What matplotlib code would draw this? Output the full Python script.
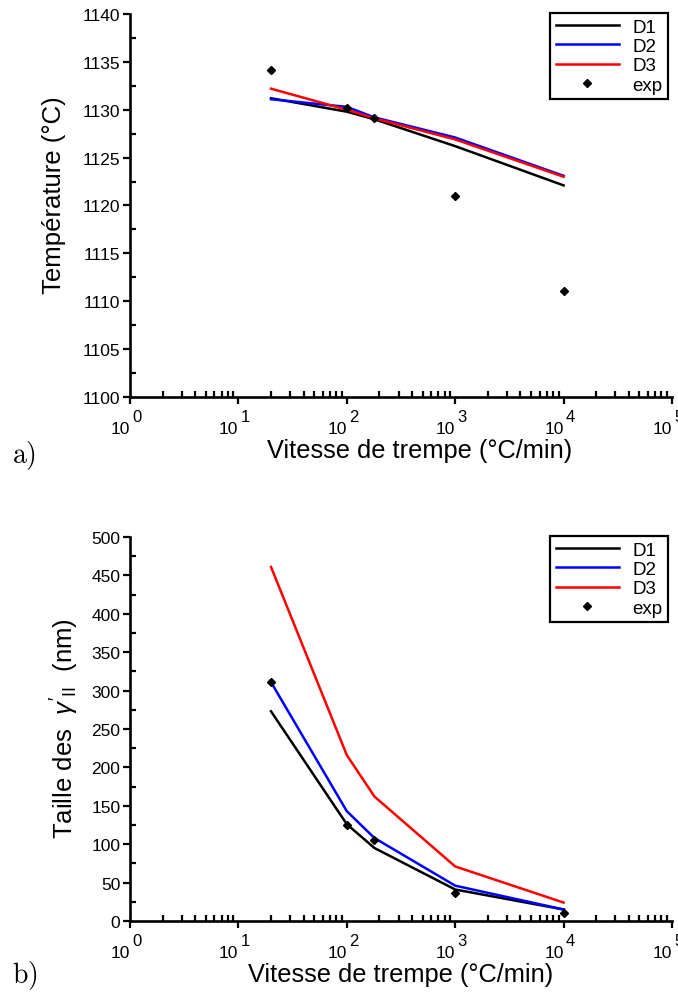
import matplotlib
matplotlib.use('Agg')
import matplotlib.pyplot as plt
from matplotlib.ticker import FixedLocator, LogLocator, MultipleLocator, NullFormatter

plt.rcParams['font.family'] = ['Liberation Sans', 'DejaVu Sans']
plt.rcParams['mathtext.fontset'] = 'custom'
plt.rcParams['mathtext.rm'] = 'Liberation Sans'
plt.rcParams['mathtext.it'] = 'Liberation Sans:italic'

# vitesse de trempe (°C/min)
vitesse = [20, 100, 180, 1000, 10000]

# a) temperature (°C)
temp_D1 = [1131.2, 1129.8, 1129.0, 1126.2, 1122.1]
temp_D2 = [1131.1, 1130.3, 1129.2, 1127.1, 1123.1]
temp_D3 = [1132.2, 1130.0, 1129.1, 1126.9, 1123.0]
temp_exp = [1134.1, 1130.2, 1129.1, 1121.0, 1111.1]

# b) taille des gamma' II (nm)
taille_D1 = [273, 126, 95, 41, 15]
taille_D2 = [311, 143, 108, 46, 15]
taille_D3 = [461, 216, 162, 71, 24]
taille_exp = [311, 125, 106, 36, 10]

decades = [0, 1, 2, 3, 4, 5]

fig = plt.figure(figsize=(6.78, 9.95), dpi=100)
ax1 = fig.add_axes([130/678, 1-398/995, 542/678, 383/995])
ax2 = fig.add_axes([130/678, 1-922/995, 542/678, 384/995])


def style_axes(ax):
    ax.set_xscale('log')
    ax.set_xlim(1, 1e5)
    for s in ['top', 'right']:
        ax.spines[s].set_visible(False)
    for s in ['left', 'bottom']:
        ax.spines[s].set_linewidth(1.9)
    ax.xaxis.set_major_locator(FixedLocator([10.0**k for k in decades]))
    ax.xaxis.set_minor_locator(LogLocator(base=10, subs=range(2, 10)))
    ax.xaxis.set_minor_formatter(NullFormatter())
    ax.set_xticklabels(['10'] * len(decades))
    ax.tick_params(axis='both', which='major', direction='out', length=5, width=1.6)
    ax.tick_params(axis='both', which='minor', direction='in', length=4, width=1.6)
    ax.tick_params(axis='y', which='major', labelsize=12.5, pad=2)
    ax.tick_params(axis='x', which='major', labelsize=12.5, pad=12)
    for lab in ax.get_xticklabels():
        lab.set_ha('right')
    # exposants des puissances de 10
    for k in decades:
        ax.annotate(str(k), xy=(10.0**k, 0), xycoords=('data', 'axes fraction'),
                    xytext=(1.5, -8.5), textcoords='offset points',
                    ha='left', va='top', fontsize=12, annotation_clip=False)


def draw(ax, d1, d2, d3, exp):
    ax.plot(vitesse, d1, color='black', lw=1.8, label='D1')
    ax.plot(vitesse, d2, color='#0000ff', lw=1.8, label='D2')
    ax.plot(vitesse, d3, color='#ff0000', lw=1.8, label='D3')
    ax.plot(vitesse, exp, ls='none', marker='D', ms=4.5, color='black', label='exp')
    leg = ax.legend(loc='upper right', bbox_to_anchor=(0.993, 1.003), fontsize=13.5,
                    frameon=True, fancybox=False, edgecolor='black', framealpha=1,
                    handlelength=3.4, labelspacing=0.12, borderpad=0.3,
                    handletextpad=0.7, borderaxespad=0)
    leg.get_frame().set_linewidth(1.6)


style_axes(ax1)
draw(ax1, temp_D1, temp_D2, temp_D3, temp_exp)
ax1.set_ylim(1100, 1140)
ax1.yaxis.set_major_locator(MultipleLocator(5))
ax1.yaxis.set_minor_locator(MultipleLocator(2.5))
ax1.set_ylabel('Température (°C)', fontsize=18.5)
ax1.yaxis.set_label_coords(-0.118, 0.53)
ax1.set_xlabel('Vitesse de trempe (°C/min)', fontsize=18.3)
ax1.xaxis.set_label_coords(0.535, -0.108)

style_axes(ax2)
draw(ax2, taille_D1, taille_D2, taille_D3, taille_exp)
ax2.set_ylim(0, 500)
ax2.yaxis.set_major_locator(MultipleLocator(50))
ax2.yaxis.set_minor_locator(MultipleLocator(25))
ax2.set_ylabel(r"Taille des  $\gamma'_{\mathrm{II}}$  (nm)", fontsize=18.5)
ax2.yaxis.set_label_coords(-0.09, 0.505)
ax2.set_xlabel('Vitesse de trempe (°C/min)', fontsize=18.3)
ax2.xaxis.set_label_coords(0.5, -0.107)

fig.text(12/678, 1-456/995, r'$\mathrm{a)}$', fontsize=20, math_fontfamily='cm', va='center')
fig.text(12/678, 1-976/995, r'$\mathrm{b)}$', fontsize=20, math_fontfamily='cm', va='center')

fig.savefig('out.png', dpi=100)
